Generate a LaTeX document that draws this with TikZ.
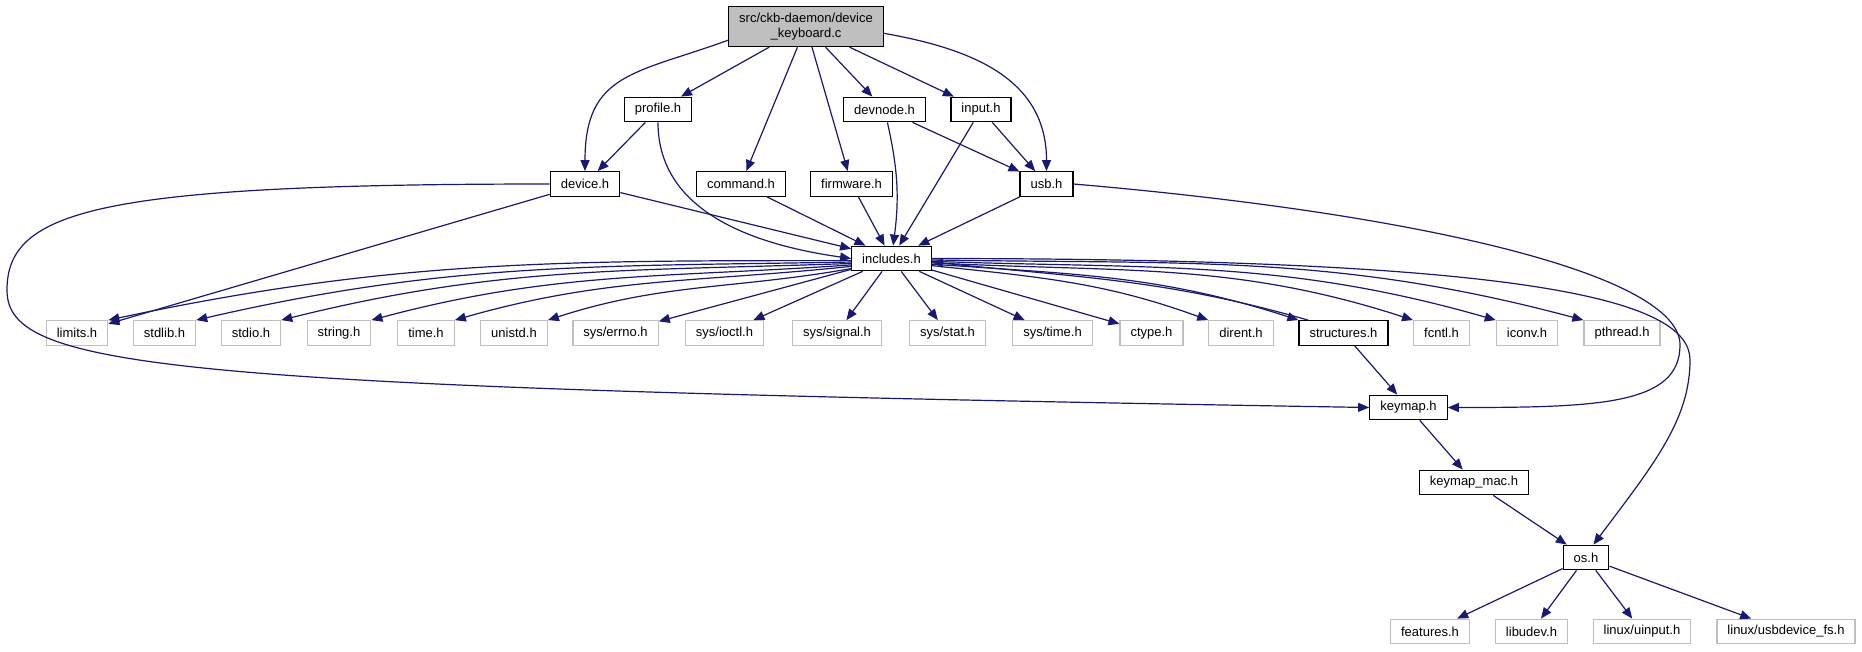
\documentclass[tikz,border=0pt]{standalone}
\usepackage{fontspec}
\setmainfont{Liberation Sans}
\usetikzlibrary{arrows.meta}
\definecolor{depblue}{RGB}{25,25,112}
\definecolor{extgray}{RGB}{191,191,191}
\definecolor{srcgray}{RGB}{191,191,191}

\tikzset{
  hdr/.style={draw=black, fill=white, line width=1.3pt, inner xsep=10.5pt, inner ysep=0pt, minimum height=24.5pt, font=\fontsize{13}{14.5}\selectfont},
  ext/.style={hdr, draw=extgray},
  srcfile/.style={hdr, fill=srcgray, align=center, minimum height=40pt},
  dep/.style={draw=depblue, line width=1.2pt, -{Triangle[length=11pt,width=9pt]}}
}

\begin{document}
\begin{tikzpicture}[x=1pt, y=1pt]
  \useasboundingbox (0,0) rectangle (1862,-651);

  \node[srcfile] (src) at (806,-26.5) {src/ckb-daemon/device\\\_keyboard.c};

  \node[hdr] (profile) at (658,-109.5) {profile.h};
  \node[hdr] (devnode) at (884.5,-109.5) {devnode.h};
  \node[hdr] (input) at (981,-109.5) {input.h};

  \node[hdr] (device) at (585,-184) {device.h};
  \node[hdr] (command) at (741,-184) {command.h};
  \node[hdr] (firmware) at (851.5,-184) {firmware.h};
  \node[hdr] (usb) at (1046.5,-184) {usb.h};

  \node[hdr] (includes) at (891.5,-258.5) {includes.h};

  \node[ext] (limits) at (77,-333) {limits.h};
  \node[ext] (stdlib) at (164.5,-333) {stdlib.h};
  \node[ext] (stdio) at (251,-333) {stdio.h};
  \node[ext] (string) at (339,-333) {string.h};
  \node[ext] (time) at (426,-333) {time.h};
  \node[ext] (unistd) at (514,-333) {unistd.h};
  \node[ext] (errno) at (615.5,-333) {sys/errno.h};
  \node[ext] (ioctl) at (724.5,-333) {sys/ioctl.h};
  \node[ext] (signal) at (837,-333) {sys/signal.h};
  \node[ext] (stat) at (947.5,-333) {sys/stat.h};
  \node[ext] (systime) at (1052.5,-333) {sys/time.h};
  \node[ext] (ctype) at (1151.5,-333) {ctype.h};
  \node[ext] (dirent) at (1241,-333) {dirent.h};
  \node[hdr] (structures) at (1343.5,-333) {structures.h};
  \node[ext] (fcntl) at (1441.5,-333) {fcntl.h};
  \node[ext] (iconv) at (1527,-333) {iconv.h};
  \node[ext] (pthread) at (1622,-333) {pthread.h};

  \node[hdr] (keymap) at (1408.5,-407.5) {keymap.h};
  \node[hdr] (keymapmac) at (1474,-482.5) {keymap\_mac.h};
  \node[hdr] (os) at (1586,-557.5) {os.h};

  \node[ext] (features) at (1430,-631.5) {features.h};
  \node[ext] (libudev) at (1531.5,-631.5) {libudev.h};
  \node[ext] (uinput) at (1642,-631.5) {linux/uinput.h};
  \node[ext] (usbdevfs) at (1786,-631.5) {linux/usbdevice\_fs.h};

  \coordinate (devbend) at (7,-290);
  \coordinate (kmbend) at (1680,-345);
  \coordinate (osbend) at (1690,-360);

  \draw[dep] (src.190) to[out=200, in=90, looseness=1.3] (device.north);
  \draw[dep] (src) -- (profile);
  \draw[dep] (src) -- (command);
  \draw[dep] (src) -- (firmware);
  \draw[dep] (src) -- (devnode);
  \draw[dep] (src) -- (input);
  \draw[dep] (src.-5) to[out=-10, in=90, looseness=1.1] (usb.north);

  \draw[dep] (profile) -- (device);
  \draw[dep] (profile.south) to[out=-90, in=172] (includes.west);
  \draw[dep] (devnode) to[bend left=10] (includes);
  \draw[dep] (devnode) -- (usb);
  \draw[dep] (input) -- (includes);
  \draw[dep] (input) -- (usb);

  \draw[dep] (device) -- (includes);
  \draw[dep] (device) -- (limits);
  \draw[dep] (device.west) .. controls +(-450,0) and +(0,80) .. (devbend)
    .. controls +(0,-80) and +(-1200,20) .. (keymap.west);
  \draw[dep] (command) -- (includes);
  \draw[dep] (firmware) -- (includes);
  \draw[dep] (usb) -- (includes);
  \draw[dep] (usb.east) .. controls +(350,-30) and +(0,70) .. (kmbend)
    .. controls +(0,-60) and +(150,0) .. (keymap.east);

  \draw[dep] (includes.183) to[out=180, in=12] (limits.north east);
  \draw[dep] (includes.185) to[out=181, in=13] (stdlib.north east);
  \draw[dep] (includes.187) to[out=182, in=14] (stdio.north east);
  \draw[dep] (includes.189) to[out=184, in=15] (string.north east);
  \draw[dep] (includes.191) to[out=186, in=16] (time.north east);
  \draw[dep] (includes.194) to[out=190, in=18] (unistd.north east);
  \draw[dep] (includes) -- (errno);
  \draw[dep] (includes) -- (ioctl);
  \draw[dep] (includes) -- (signal);
  \draw[dep] (includes) -- (stat);
  \draw[dep] (includes) -- (systime);
  \draw[dep] (includes) -- (ctype);
  \draw[dep] (includes.-10) to[out=-6, in=160] (dirent.north west);
  \draw[dep] (includes.-8) to[out=-4, in=162] (structures.north west);
  \draw[dep] (structures.160) to[out=164, in=-6] (includes.-5);
  \draw[dep] (includes.-6) to[out=-3, in=162] (fcntl.north west);
  \draw[dep] (includes.-4) to[out=-2, in=164] (iconv.north west);
  \draw[dep] (includes.-2) to[out=-1, in=165] (pthread.north west);
  \draw[dep] (includes.east) .. controls +(600,0) and +(0,60) .. (osbend)
    .. controls +(0,-60) and +(60,80) .. (os.60);

  \draw[dep] (structures) -- (keymap);
  \draw[dep] (keymap) -- (keymapmac);
  \draw[dep] (keymapmac) -- (os);

  \draw[dep] (os) -- (features);
  \draw[dep] (os) -- (libudev);
  \draw[dep] (os) -- (uinput);
  \draw[dep] (os) -- (usbdevfs);
\end{tikzpicture}
\end{document}
